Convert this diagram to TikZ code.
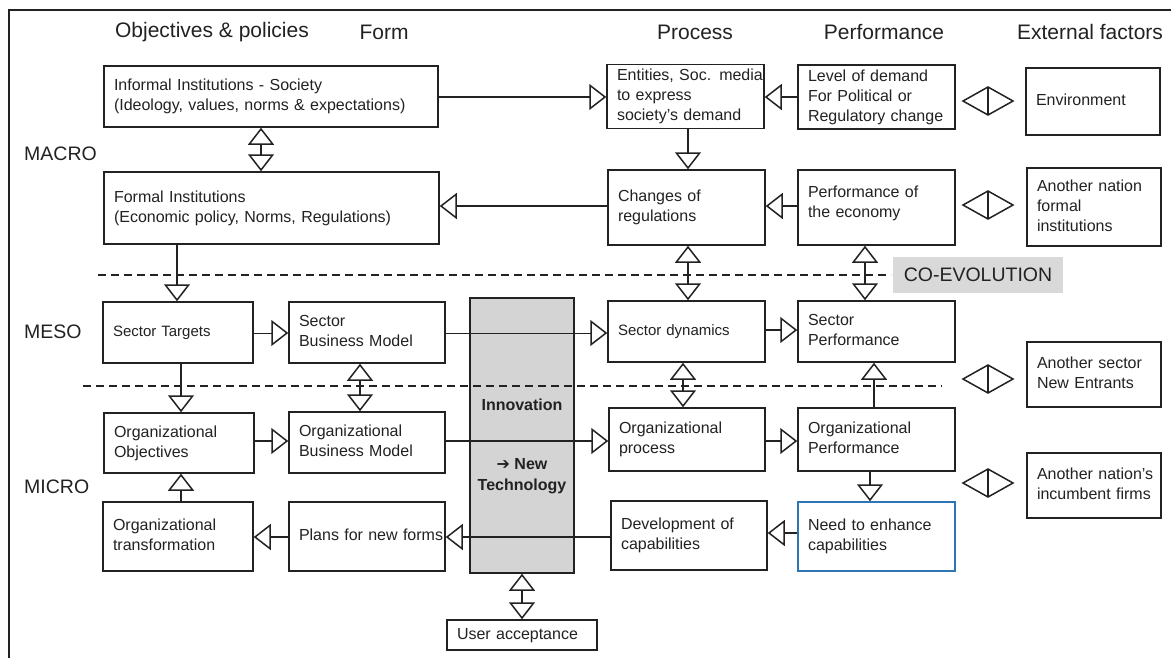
\documentclass[tikz,border=0pt]{standalone}
\usepackage{fontspec}
\setmainfont{Liberation Sans}
\newfontfamily\dejavu{DejaVu Sans}
\usetikzlibrary{arrows.meta}
\definecolor{ink}{HTML}{222222}
\definecolor{grayfill}{HTML}{D4D4D4}
\definecolor{coevfill}{HTML}{D9D9D9}
\definecolor{needblue}{HTML}{2E75B6}

\newcommand\bxn[7][]{%
  \pgfmathsetmacro\cx{(#3+#5)/2}%
  \pgfmathsetmacro\cy{-(#4+#6)/2}%
  \pgfmathsetmacro\ww{#5-#3}%
  \pgfmathsetmacro\hh{#6-#4}%
  \pgfmathsetmacro\tw{#5-#3-20}%
  \node[box,minimum width=\ww pt,minimum height=\hh pt,text width=\tw pt,#1] (#2) at (\cx pt,\cy pt) {\begin{tabular}{@{}l@{}}#7\end{tabular}};%
}
\newcommand\dmd[1]{%
  \draw[dmdline] (963,-#1) -- ++(25,14) -- ++(25,-14) -- ++(-25,-14) -- cycle;
  \draw[dmdline] (988,-#1) ++(0,14) -- ++(0,-28);%
}

\tikzset{
  tri/.tip={Triangle[open,length=17pt,width=26pt,line width=1.5pt]},
  box/.style={draw=ink,line width=1.5pt,inner xsep=10pt,inner ysep=2pt,align=left,
    font=\fontsize{16}{20}\selectfont,text=ink},
  hdr/.style={font=\fontsize{21}{25}\selectfont,text=ink,inner sep=0pt},
  lvl/.style={font=\fontsize{19.5}{24}\selectfont,text=ink,anchor=west,inner sep=0pt},
  arr/.style={-{tri},line width=1.6pt,draw=ink},
  darr/.style={{tri}-{tri},line width=1.6pt,draw=ink},
  arrthin/.style={arr,line width=1pt},
  arrthick/.style={arr,line width=2.2pt},
  dline/.style={draw=ink,line width=1.5pt,dash pattern=on 8pt off 5pt},
  dmdline/.style={draw=ink,line width=1.5pt,line join=miter},
}

\begin{document}
\begin{tikzpicture}[x=1pt,y=1pt]
\useasboundingbox (0,0) rectangle (1171,-657);
\fill[white] (0,0) rectangle (1171,-657);
% outer frame
\draw[ink,line width=2pt] (9,-700) -- (9,-10) -- (1200,-10);

% headers
\node[hdr] (hobj) at (212,-32) {Objectives \& policies};
\node[hdr] (hform) at (384,-32) {Form};
\node[hdr] (hproc) at (695,-32) {Process};
\node[hdr] (hperf) at (884,-32) {Performance};
\node[hdr] (hext) at (1090,-32) {External factors};

% level labels
\node[lvl] (macro) at (24,-154) {MACRO};
\node[lvl] (meso) at (24,-332) {MESO};
\node[lvl] (micro) at (24,-487) {MICRO};

% innovation column
\node[draw=ink,line width=1.5pt,fill=grayfill,minimum width=104pt,minimum height=275pt,inner sep=0pt] (innov) at (522,-435.5) {};
\node[font=\bfseries\fontsize{16}{20}\selectfont,text=ink] (innovt) at (522,-405) {Innovation};
\node[font=\bfseries\fontsize{16}{21}\selectfont,text=ink,align=center] (newtech) at (522,-476) {{\dejavu\bfseries ➔} New\\Technology};

% dashed level separators
\draw[dline] (98,-275) -- (891,-275);
\draw[dline] (83,-386) -- (942,-386);

% co-evolution label
\node[fill=coevfill,minimum width=170pt,minimum height=36pt,inner sep=0pt,font=\fontsize{19.5}{24}\selectfont,text=ink] (coevo) at (978,-275) {CO-EVOLUTION};

% boxes
\bxn{informal}{104}{66}{438}{127}{Informal Institutions - Society\\(Ideology, values, norms \& expectations)}
\bxn{formal}{104}{172}{439}{244}{Formal Institutions\\(Economic policy, Norms, Regulations)}
\bxn{entities}{607}{65}{764}{128}{Entities, Soc. media\\to express\\society’s demand}
\bxn{level}{798}{66}{955}{128}{Level of demand\\For Political or\\Regulatory change}
\bxn[inner xsep=8pt]{env}{1026}{68}{1160}{135}{Environment}
\bxn{changes}{608}{170}{765}{245}{Changes of\\regulations}
\bxn{perfecon}{798}{170}{955}{245}{Performance of\\the economy\\[8pt]}
\bxn[inner xsep=8pt]{anf}{1027}{168}{1161}{246}{Another nation\\formal\\institutions}
\bxn[font=\fontsize{15}{20}\selectfont]{st}{103}{302}{253}{363}{Sector Targets}
\bxn{sbm}{289}{302}{445}{363}{Sector\\Business Model}
\bxn[font=\fontsize{15}{20}\selectfont]{sd}{608}{301}{765}{362}{Sector dynamics}
\bxn{sp}{798}{301}{955}{362}{Sector\\Performance}
\bxn[inner xsep=8pt]{asne}{1027}{342}{1161}{407}{Another sector\\New Entrants}
\bxn{oo}{104}{413}{254}{473}{Organizational\\Objectives}
\bxn{obm}{289}{412}{445}{473}{Organizational\\Business Model}
\bxn{oproc}{609}{408}{765}{471}{Organizational\\process}
\bxn{operf}{798}{408}{955}{471}{Organizational\\Performance}
\bxn[inner xsep=8pt]{ani}{1027}{453}{1161}{518}{Another nation’s\\incumbent firms}
\bxn{ot}{103}{502}{253}{571}{Organizational\\transformation}
\bxn{plans}{289}{502}{445}{571}{Plans for new forms}
\bxn{dev}{611}{501}{767}{570}{Development of\\capabilities}
\bxn[draw=needblue]{need}{798}{502}{955}{571}{Need to enhance\\capabilities}
\bxn{user}{447}{620}{597}{650}{User acceptance}

% helper coordinates
\coordinate (h97) at (0,-97);
\coordinate (h206) at (0,-206);
\coordinate (h330) at (0,-330);
\coordinate (h333) at (0,-333);
\coordinate (h441) at (0,-441);
\coordinate (h533) at (0,-533);
\coordinate (h537) at (0,-537);
\coordinate (v177) at (177,0);
\coordinate (v181) at (181,0);
\coordinate (v261) at (261,0);
\coordinate (v360) at (360,0);
\coordinate (v522) at (522,0);
\coordinate (v683) at (683,0);
\coordinate (v688) at (688,0);
\coordinate (v865) at (865,0);
\coordinate (v870) at (870,0);
\coordinate (v874) at (874,0);

% connectors
\draw[arr] (informal.east |- h97) -- (entities.west |- h97);
\draw[arr] (level.west |- h97) -- (entities.east |- h97);
\draw[arr] (entities.south -| v688) -- (changes.north -| v688);
\draw[arr] (perfecon.west |- h206) -- (changes.east |- h206);
\draw[arr] (changes.west |- h206) -- (formal.east |- h206);
\draw[darr] (informal.south -| v261) -- (formal.north -| v261);
\draw[arr] (formal.south -| v177) -- (st.north -| v177);
\draw[darr] (changes.south -| v688) -- (sd.north -| v688);
\draw[darr] (perfecon.south -| v865) -- (sp.north -| v865);
\draw[arrthin] (st.east |- h333) -- (sbm.west |- h333);
\draw[arrthin] (sbm.east |- h333) -- (sd.west |- h333);
\draw[arr] (sd.east |- h330) -- (sp.west |- h330);
\draw[arr] (st.south -| v181) -- (oo.north -| v181);
\draw[darr] (sbm.south -| v360) -- (obm.north -| v360);
\draw[darr] (sd.south -| v683) -- (oproc.north -| v683);
\draw[arr] (operf.north -| v874) -- (sp.south -| v874);
\draw[arrthick] (oo.east |- h441) -- (obm.west |- h441);
\draw[arrthick] (obm.east |- h441) -- (oproc.west |- h441);
\draw[arr] (oproc.east |- h441) -- (operf.west |- h441);
\draw[arr] (operf.south -| v870) -- (need.north -| v870);
\draw[arr] (need.west |- h533) -- (dev.east |- h533);
\draw[arr] (dev.west |- h537) -- (plans.east |- h537);
\draw[arr] (plans.west |- h537) -- (ot.east |- h537);
\draw[arr] (ot.north -| v181) -- (oo.south -| v181);
\draw[darr] (innov.south -| v522) -- (user.north -| v522);

% external-factor diamonds
\dmd{101}
\dmd{205}
\dmd{379}
\dmd{483}
\end{tikzpicture}
\end{document}
